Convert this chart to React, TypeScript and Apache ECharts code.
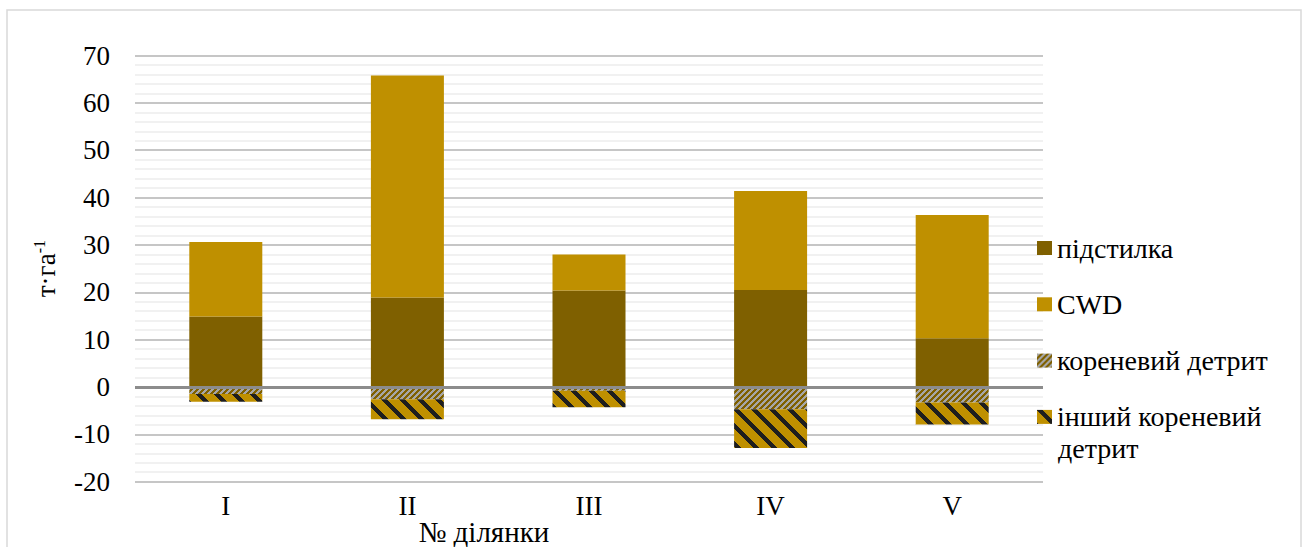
import React, { useEffect, useRef } from "react";
import * as echarts from "echarts";

// Plots (sites) and biomass components, t·ha-1
const categories = ["I", "II", "III", "IV", "V"];
const litter = [14.9, 18.9, 20.4, 20.5, 10.3];
const cwd = [15.7, 46.9, 7.6, 20.9, 26.0];
const rootDetritus = [-1.5, -2.6, -0.8, -4.7, -3.3];
const otherRootDetritus = [-1.6, -4.2, -3.5, -8.2, -4.6];
const seriesNames = ["підстилка", "CWD", "кореневий детрит", "інший кореневий детрит"];
const yTicks = { min: -20, max: 70, interval: 10 };

const FONT = "Times New Roman";

// Striped fill: stripes of colour `fg` over `bg`; dir +1 = "/", -1 = "\"
function stripePattern(size: number, band: number, fg: string, bg: string, dir: number) {
  const c = document.createElement("canvas");
  c.width = size;
  c.height = size;
  const ctx = c.getContext("2d")!;
  ctx.fillStyle = bg;
  ctx.fillRect(0, 0, size, size);
  ctx.fillStyle = fg;
  for (let y = 0; y < size; y++) {
    for (let x = 0; x < size; x++) {
      const k = dir > 0 ? x + y : x - y;
      if ((((k % size) + size) % size) < band) ctx.fillRect(x, y, 1, 1);
    }
  }
  return { image: c, repeat: "repeat", imageWidth: size, imageHeight: size } as any;
}

export default function App() {
  const ref = useRef<HTMLDivElement>(null);

  useEffect(() => {
    if (!ref.current) return;
    const chart = echarts.init(ref.current, null, { renderer: "svg" });

    const rootFill = stripePattern(6, 3, "#a6a6a6", "#7f6000", 1);
    const otherFill = stripePattern(18, 6, "#1e1e1e", "#bf9000", -1);

    const label = { fontFamily: FONT, fontSize: 27, color: "#000" };

    chart.setOption({
      animation: false,
      backgroundColor: "#ffffff",
      textStyle: { fontFamily: FONT },
      grid: { left: 135, right: 263, top: 55.5, bottom: 65.3, containLabel: false },
      legend: {
        orient: "vertical",
        left: 1037,
        top: 231.5,
        padding: 0,
        itemGap: 23.3,
        itemWidth: 15,
        itemHeight: 14,
        icon: "rect",
        data: seriesNames,
        formatter: (name: string) => (name === "інший кореневий детрит" ? "інший кореневий" : name),
        textStyle: { fontFamily: FONT, fontSize: 28, color: "#000", lineHeight: 33 },
      },
      graphic: [
        {
          type: "rect",
          silent: true,
          shape: { x: 7, y: 10, width: 1294, height: 560 },
          style: { fill: "none", stroke: "#d9d9d9", lineWidth: 1.5 },
        },
        {
          type: "text",
          silent: true,
          left: 1058,
          top: 434,
          style: { text: "детрит", fontFamily: FONT, fontSize: 28, fill: "#000" },
        },
        {
          type: "text",
          silent: true,
          x: 484,
          y: 532,
          style: {
            text: "№ ділянки",
            fontFamily: FONT,
            fontSize: 29,
            fill: "#000",
            align: "center",
            verticalAlign: "middle",
          },
        },
      ],
      xAxis: {
        type: "category",
        data: categories,
        axisLine: { show: false, onZero: false },
        axisTick: { show: false },
        axisLabel: { ...label, margin: 11 },
        splitLine: { show: false },
      },
      yAxis: {
        type: "value",
        min: yTicks.min,
        max: yTicks.max,
        interval: yTicks.interval,
        name: "{a|т·га}{b|-1}",
        nameLocation: "middle",
        nameRotate: 90,
        nameGap: 74,
        nameTextStyle: {
          rich: {
            a: { fontFamily: FONT, fontSize: 27, color: "#000", lineHeight: 30 },
            b: { fontFamily: FONT, fontSize: 16, color: "#000", lineHeight: 16, verticalAlign: "top" },
          },
        },
        axisLine: { show: false },
        axisTick: { show: false },
        axisLabel: { ...label, margin: 25 },
        splitLine: { show: true, lineStyle: { color: "#b3b3b3", width: 1.5 } },
        minorTick: { show: false, splitNumber: 5 },
        minorSplitLine: { show: true, lineStyle: { color: "#ececec", width: 1.5 } },
      },
      series: [
        {
          name: seriesNames[0],
          type: "bar",
          stack: "total",
          barWidth: 73,
          data: litter,
          itemStyle: { color: "#7f6000" },
          markLine: {
            silent: true,
            symbol: ["none", "none"],
            label: { show: false },
            lineStyle: { color: "#8c8c8c", width: 3, type: "solid" },
            data: [{ yAxis: 0 }],
          },
        },
        {
          name: seriesNames[1],
          type: "bar",
          stack: "total",
          barWidth: 73,
          data: cwd,
          itemStyle: { color: "#bf9000" },
        },
        {
          name: seriesNames[2],
          type: "bar",
          stack: "total",
          barWidth: 73,
          data: rootDetritus,
          itemStyle: { color: rootFill },
        },
        {
          name: seriesNames[3],
          type: "bar",
          stack: "total",
          barWidth: 73,
          data: otherRootDetritus,
          itemStyle: { color: otherFill },
        },
      ],
    });

    return () => chart.dispose();
  }, []);

  return (
    <div
      ref={ref}
      style={{ position: "absolute", left: 0, top: 0, width: 1306, height: 547 }}
    />
  );
}
